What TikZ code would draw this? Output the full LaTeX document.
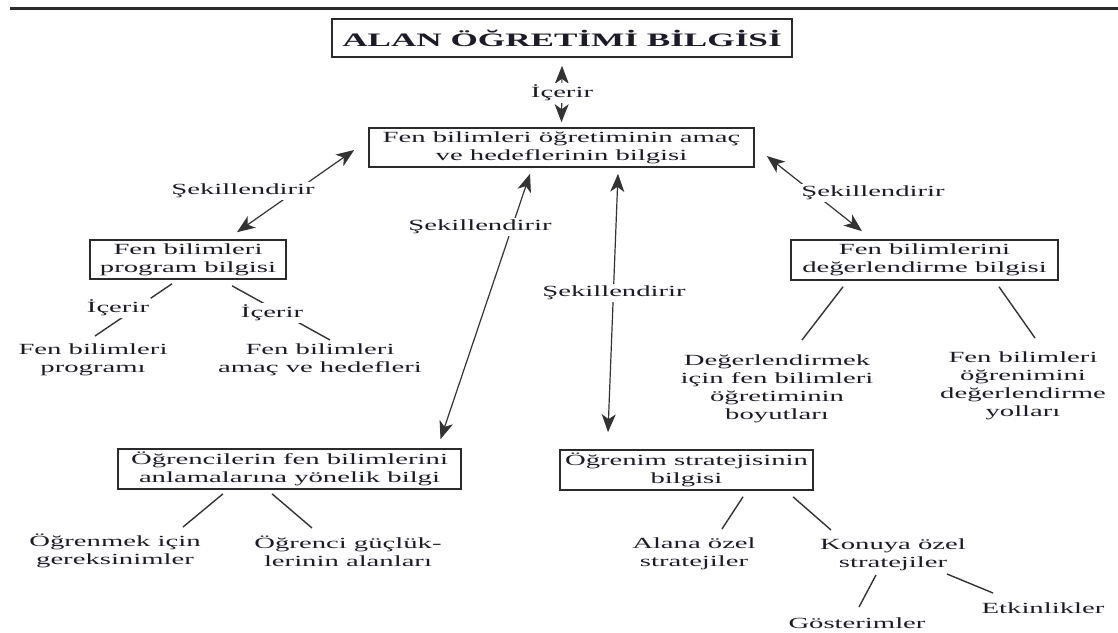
\documentclass[tikz,border=0pt]{standalone}
\usepackage{fontspec}
\setmainfont{Liberation Serif}[FakeStretch=1.85]
\usepackage{tikz}
\usetikzlibrary{arrows.meta}
\definecolor{ink}{HTML}{1C1C28}
\definecolor{frame}{HTML}{2B2B2B}
\definecolor{wire}{HTML}{333333}
\newcommand{\boxfont}{\fontsize{15.5}{18}\selectfont}
\newcommand{\headfont}{\fontsize{19}{22}\selectfont\bfseries}
\tikzset{
  box/.style={rectangle, draw=frame, line width=1.6pt, fill=white, align=center,
              inner sep=0pt, font=\boxfont, text=ink},
  leaf/.style={align=center, inner sep=1pt, font=\boxfont, text=ink},
  lbl/.style={fill=white, inner sep=1.5pt, font=\boxfont, text=ink},
  link/.style={draw=wire, line width=1.4pt},
  both/.style={{Stealth[length=18pt,width=14pt,inset=5pt]}-{Stealth[length=18pt,width=14pt,inset=5pt]},
               draw=wire, line width=1.2pt}
}
\begin{document}
\begin{tikzpicture}[x=1pt,y=-1pt]
 \useasboundingbox (0,0) rectangle (1118,632);
 \draw[frame, line width=3pt] (10,8) -- (1118,8);
 \node[box, minimum width=460pt, minimum height=38pt, font=\headfont] (top) at (562,38) {ALAN ÖĞRETİMİ BİLGİSİ};
 \node[box, minimum width=385pt, minimum height=39pt] (goal) at (561.5,147.5) {Fen bilimleri öğretiminin amaç\\ve hedeflerinin bilgisi};
 \node[box, minimum width=196pt, minimum height=39pt] (prog) at (188,259.5) {Fen bilimleri\\program bilgisi};
 \node[box, minimum width=267pt, minimum height=40pt] (eval) at (924.5,260) {Fen bilimlerini\\değerlendirme bilgisi};
 \node[box, minimum width=343pt, minimum height=40pt] (stud) at (289.5,469) {Öğrencilerin fen bilimlerini\\anlamalarına yönelik bilgi};
 \node[box, minimum width=253pt, minimum height=40pt] (strat) at (686.5,470) {Öğrenim stratejisinin\\bilgisi};
 \node[leaf] (progA) at (93,360) {Fen bilimleri\\programı};
 \node[leaf] (progB) at (320,360) {Fen bilimleri\\amaç ve hedefleri};
 \node[leaf] (evalA) at (777,389) {Değerlendirmek\\için fen bilimleri\\öğretiminin\\boyutları};
 \node[leaf] (evalB) at (1023,386) {Fen bilimleri\\öğrenimini\\değerlendirme\\yolları};
 \node[leaf] (studA) at (115,551) {Öğrenmek için\\gereksinimler};
 \node[leaf] (studB) at (348,551) {Öğrenci güçlük-\\lerinin alanları};
 \node[leaf] (stratA) at (694,554) {Alana özel\\stratejiler};
 \node[leaf] (stratB) at (893,555) {Konuya özel\\stratejiler};
 \node[leaf] (show) at (857,623) {Gösterimler};
 \node[leaf] (act) at (1043,608) {Etkinlikler};
 \draw[both] ([shift={(0,8)}]top.south) -- ([shift={(0,-5)}]goal.north);
 \draw[both] ([shift={(-14,2.5)}]goal.west) -- ([shift={(49,-7)}]prog.north);
 \draw[both] ([shift={(12,8.5)}]goal.east) -- ([shift={(-62.5,-8)}]eval.north);
 \draw[both] ([shift={(-31.5,6)}]goal.south) -- ([shift={(151,-9)}]stud.north);
 \draw[both] ([shift={(56.5,6)}]goal.south) -- ([shift={(-78.5,-17)}]strat.north);
 \draw[link] ([shift={(-16,4)}]prog.south) -- ([shift={(2,-24)}]progA.center);
 \draw[link] ([shift={(44,6)}]prog.south) -- ([shift={(10,-20)}]progB.center);
 \draw[link] ([shift={(-81.5,6)}]eval.south) -- ([shift={(25,-49)}]evalA.center);
 \draw[link] ([shift={(74.5,6)}]eval.south) -- ([shift={(12,-48)}]evalB.center);
 \draw[link] ([shift={(-66.5,4)}]stud.south) -- ([shift={(68,-24)}]studA.center);
 \draw[link] ([shift={(-17.5,4)}]stud.south) -- ([shift={(-36,-23)}]studB.center);
 \draw[link] ([shift={(56.5,6)}]strat.south) -- ([shift={(28,-25)}]stratA.center);
 \draw[link] ([shift={(106.5,6)}]strat.south) -- ([shift={(-62,-25)}]stratB.center);
 \draw[link] ([shift={(-17,20)}]stratB.center) -- ([shift={(2,-16)}]show.center);
 \draw[link] ([shift={(54,19)}]stratB.center) -- ([shift={(-50,-15)}]act.center);
 \node[lbl] (inc) at (562,93) {İçerir};
 \node[lbl] (shL) at (243,191) {Şekillendirir};
 \node[lbl] (shR) at (873,193) {Şekillendirir};
 \node[lbl] (shM) at (480,227) {Şekillendirir};
 \node[lbl] (shV) at (614,293) {Şekillendirir};
 \node[lbl] (incA) at (118,308) {İçerir};
 \node[lbl] (incB) at (272,313) {İçerir};
\end{tikzpicture}
\end{document}
